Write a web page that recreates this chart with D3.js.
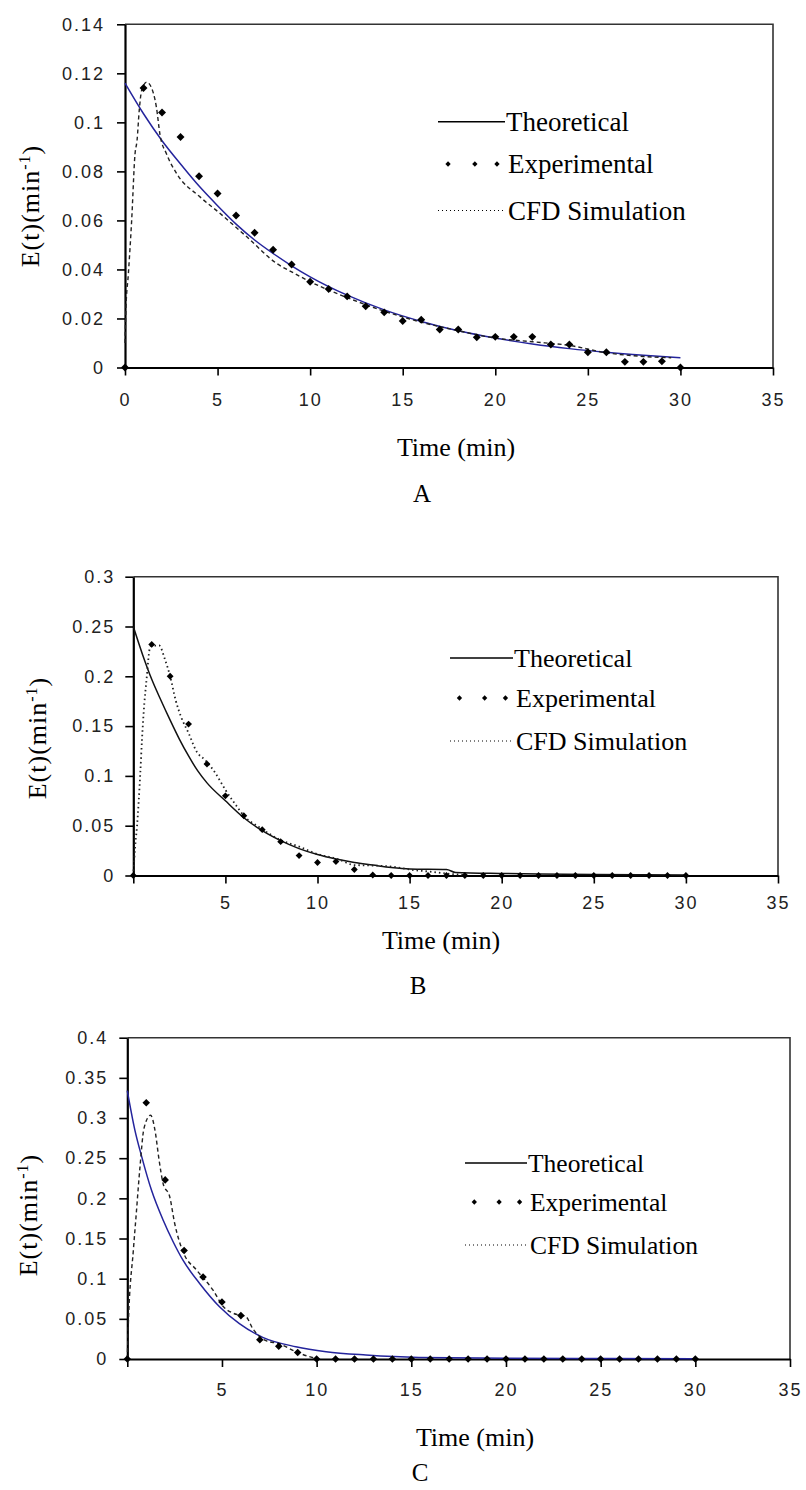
<!DOCTYPE html>
<html>
<head>
<meta charset="utf-8">
<script src="https://cdn.jsdelivr.net/npm/d3@7"></script>
<style>
  body { margin: 0; background: #fff; }
  svg { display: block; }
</style>
</head>
<body>
<svg id="chart" width="806" height="1490"></svg>
<script>
// values (E(t) in 1/min, time in min)
const timeExp = [0,1,2,3,4,5,6,7,8,9,10,11,12,13,14,15,16,17,18,19,20,21,22,23,24,25,26,27,28,29,30];

// panel A
const expA = [0,0.114,0.104,0.094,0.078,0.071,0.062,0.055,0.048,0.042,0.035,0.032,0.029,0.025,0.0225,0.019,0.0195,0.0155,0.0155,0.0123,0.0125,0.0125,0.0125,0.0094,0.0094,0.0062,0.0062,0.0023,0.0023,0.0025,0];
const theoTimeA = [0,1,2,3,4,5,6,7,8,9,10,12,14,16,18,20,22,24,26,28,30];
const theoA = [0.116,0.1035,0.0925,0.083,0.074,0.066,0.0585,0.052,0.0465,0.0415,0.037,0.0295,0.0235,0.0188,0.015,0.012,0.0096,0.0077,0.0062,0.005,0.004];
const cfdTimeA = [0,0.05,0.18,0.36,0.54,0.65,0.77,0.9,1.17,1.53,1.7,1.89,2.25,2.8,4.05,5.14,6.58,8.2,9,10,12,14,16,18,20,22,24,26,28,29.5];
const cfdA = [0.01,0.024,0.038,0.06,0.087,0.0926,0.105,0.113,0.1164,0.112,0.106,0.095,0.087,0.079,0.0696,0.0628,0.0533,0.0424,0.039,0.035,0.0285,0.023,0.0185,0.015,0.012,0.0105,0.009,0.006,0.0045,0.004];

// panel B
const expB = [0,0.232,0.200,0.152,0.112,0.080,0.060,0.046,0.034,0.020,0.013,0.014,0.006,0.0005,0,0,0,0,0,0,0,0,0,0,0,0,0,0,0,0,0];
const theoTimeB = [0,0.5,1,1.5,2,2.5,3,3.5,4,5,6,7,8,9,10,11,12,13,14,15,17,17.5,20,22,25,30];
const theoB = [0.25,0.222,0.197,0.176,0.156,0.137,0.12,0.105,0.093,0.075,0.058,0.045,0.035,0.027,0.021,0.0165,0.013,0.0105,0.008,0.0065,0.006,0.003,0.002,0.0015,0.001,0.0005];
const cfdTimeB = [0,0.1,0.2,0.38,0.47,0.6,0.7,0.93,1.4,1.7,2,2.3,2.6,3,3.45,3.9,4.45,5,5.5,6.05,6.8,8,9,10,11.1,12,13,14,15,16,17,18];
const cfdB = [0,0.029,0.049,0.103,0.136,0.173,0.193,0.23,0.231,0.218,0.2,0.176,0.159,0.143,0.124,0.116,0.103,0.086,0.0725,0.059,0.049,0.0355,0.029,0.0215,0.0165,0.0105,0.01,0.009,0.006,0.004,0.002,0.0005];

// panel C
const expC = [0,0.319,0.223,0.135,0.102,0.071,0.054,0.024,0.016,0.008,0,0,0,0,0,0,0,0,0,0,0,0,0,0,0,0,0,0,0,0,0];
const theoTimeC = [0,0.4,0.76,1.28,1.89,2.42,2.94,3.82,4.87,5.92,7.15,8.9,10.5,12.6,15.4,20,25,30];
const theoC = [0.334,0.285,0.252,0.21,0.173,0.146,0.123,0.094,0.065,0.044,0.027,0.0153,0.0091,0.005,0.002,0.001,0.0006,0.0004];
const cfdTimeC = [0,0.05,0.32,0.46,0.67,0.88,1.23,1.46,1.68,1.89,2.24,2.5,2.98,3.65,4.52,5.08,5.59,6.27,6.62,7.32,8.02,8.9,9.6,10.1];
const cfdC = [0,0.04,0.1356,0.177,0.239,0.287,0.3035,0.285,0.2475,0.2185,0.202,0.169,0.1315,0.111,0.086,0.065,0.057,0.0526,0.038,0.0228,0.019,0.009,0.003,0];

// ticks and labels
const xTicksA = [0,5,10,15,20,25,30,35];
const xTicksBC = [0,5,10,15,20,25,30,35];
const yTicksA = [0,0.02,0.04,0.06,0.08,0.1,0.12,0.14];
const yTicksB = [0,0.05,0.1,0.15,0.2,0.25,0.3];
const yTicksC = [0,0.05,0.1,0.15,0.2,0.25,0.3,0.35,0.4];
const legendNames = ['Theoretical','Experimental','CFD Simulation'];
const panelNames = ['A','B','C'];

const svg = d3.select('#chart');

const panels = [
  {exp: expA, theoT: theoTimeA, theo: theoA, cfdT: cfdTimeA, cfd: cfdA,
   xTicks: xTicksA, yTicks: yTicksA, zeroLabel: true,
   left: 125, right: 773, top: 24.3, bottom: 367.5, yPad: 12, xPad: 18,
   theoColor: '#24249c', cfdDash: '4,3', cfdWidth: 1.4, markSize: 40,
   leg: {x0: 438, x1: 505, tx: 508, ys: [121.7, 164, 210.5], fs: 27},
   ylab: {x: 30, y: 206}, xlab: {x: 456, y: 447}, tag: {x: 422, y: 493}},
  {exp: expB, theoT: theoTimeB, theo: theoB, cfdT: cfdTimeB, cfd: cfdB,
   xTicks: xTicksBC, yTicks: yTicksB, zeroLabel: false,
   left: 133.3, right: 778, top: 576.7, bottom: 875.5, yPad: 10, xPad: 13,
   theoColor: '#111', cfdDash: '1.5,3', cfdWidth: 1.8, markSize: 30,
   leg: {x0: 450, x1: 513, tx: 516, ys: [658, 698, 741], fs: 26},
   ylab: {x: 37, y: 738}, xlab: {x: 441, y: 940}, tag: {x: 418, y: 985}},
  {exp: expC, theoT: theoTimeC, theo: theoC, cfdT: cfdTimeC, cfd: cfdC,
   xTicks: xTicksBC, yTicks: yTicksC, zeroLabel: false,
   left: 127.3, right: 790, top: 1037.7, bottom: 1359, yPad: 11, xPad: 16,
   theoColor: '#24249c', cfdDash: '4,3', cfdWidth: 1.4, markSize: 36,
   leg: {x0: 465, x1: 527, tx: 530, ys: [1163, 1202, 1245], fs: 25.5},
   ylab: {x: 28, y: 1215}, xlab: {x: 475, y: 1437}, tag: {x: 420, y: 1472}}
];

const yFmt = d => d === 0 ? '0' : String(+d.toFixed(2));

panels.forEach((p, i) => {
  const x = d3.scaleLinear().domain([0, 35]).range([p.left, p.right]);
  const y = d3.scaleLinear().domain([0, p.yTicks[p.yTicks.length - 1]]).range([p.bottom, p.top]);
  const g = svg.append('g');

  // frame (top and right)
  g.append('path')
    .attr('d', `M${p.left},${p.top}H${p.right}V${p.bottom}`)
    .attr('fill', 'none').attr('stroke', '#333').attr('stroke-width', 1.6);

  // axes
  const ya = g.append('g').attr('transform', `translate(${p.left},0)`)
    .call(d3.axisLeft(y).tickValues(p.yTicks).tickSize(8).tickSizeOuter(0)
      .tickPadding(p.yPad).tickFormat(yFmt));
  const xa = g.append('g').attr('transform', `translate(0,${p.bottom})`)
    .call(d3.axisBottom(x).tickValues(p.xTicks).tickSize(8).tickSizeOuter(0)
      .tickPadding(p.xPad).tickFormat(d => (d === 0 && !p.zeroLabel) ? '' : d));
  [ya, xa].forEach(a => {
    a.select('.domain').attr('stroke', '#000').attr('stroke-width', 2.2);
    a.selectAll('.tick line').attr('stroke', '#000').attr('stroke-width', 1.6);
    a.selectAll('.tick text')
      .attr('font-family', 'Liberation Sans, Arial, sans-serif')
      .attr('font-size', 18).attr('letter-spacing', '2px').attr('fill', '#222');
  });

  // lines
  const line = d3.line().x(d => x(d[0])).y(d => y(d[1])).curve(d3.curveMonotoneX);
  g.append('path')
    .datum(p.theoT.map((t, k) => [t, p.theo[k]]))
    .attr('d', line).attr('fill', 'none')
    .attr('stroke', p.theoColor).attr('stroke-width', 1.5);
  g.append('path')
    .datum(p.cfdT.map((t, k) => [t, p.cfd[k]]))
    .attr('d', line).attr('fill', 'none')
    .attr('stroke', '#222').attr('stroke-width', p.cfdWidth)
    .attr('stroke-dasharray', p.cfdDash);

  // experimental points
  const sym = d3.symbol().type(d3.symbolDiamond2).size(p.markSize);
  g.selectAll('.pt').data(timeExp.map((t, k) => [t, p.exp[k]]))
    .join('path').attr('class', 'pt')
    .attr('transform', d => `translate(${x(d[0])},${y(d[1])})`)
    .attr('d', sym).attr('fill', '#000');

  // legend
  const L = p.leg;
  const lg = g.append('g').attr('font-family', 'Liberation Serif, Times New Roman, serif')
    .attr('font-size', L.fs);
  lg.append('line').attr('x1', L.x0).attr('x2', L.x1).attr('y1', L.ys[0]).attr('y2', L.ys[0])
    .attr('stroke', '#000').attr('stroke-width', 1.4);
  [0.15, 0.55, 0.88].forEach(f => {
    lg.append('path').attr('d', d3.symbol().type(d3.symbolDiamond2).size(18))
      .attr('transform', `translate(${L.x0 + f * (L.x1 - L.x0)},${L.ys[1]})`);
  });
  lg.append('line').attr('x1', L.x0).attr('x2', L.x1).attr('y1', L.ys[2]).attr('y2', L.ys[2])
    .attr('stroke', '#000').attr('stroke-width', 1).attr('stroke-dasharray', '1,3');
  legendNames.forEach((n, k) => {
    lg.append('text').attr('x', k === 0 ? L.tx - 2 : L.tx).attr('y', L.ys[k]).attr('dy', '0.35em')
      .text(n);
  });

  // axis titles
  const yl = g.append('text')
    .attr('transform', `translate(${p.ylab.x},${p.ylab.y}) rotate(-90)`)
    .attr('text-anchor', 'middle').attr('dy', '0.35em')
    .attr('font-family', 'Liberation Serif, Times New Roman, serif')
    .attr('font-size', 26).attr('letter-spacing', '1px');
  yl.append('tspan').text('E(t)(min');
  yl.append('tspan').attr('font-size', 16).attr('dy', '-0.6em').text('-1');
  yl.append('tspan').attr('dy', '0.42em').text(')');

  g.append('text').attr('x', p.xlab.x).attr('y', p.xlab.y).attr('dy', '0.35em')
    .attr('text-anchor', 'middle')
    .attr('font-family', 'Liberation Serif, Times New Roman, serif').attr('font-size', 26)
    .text('Time (min)');
  g.append('text').attr('x', p.tag.x).attr('y', p.tag.y).attr('dy', '0.35em')
    .attr('text-anchor', 'middle')
    .attr('font-family', 'Liberation Serif, Times New Roman, serif').attr('font-size', 25)
    .text(panelNames[i]);
});
</script>
</body>
</html>
